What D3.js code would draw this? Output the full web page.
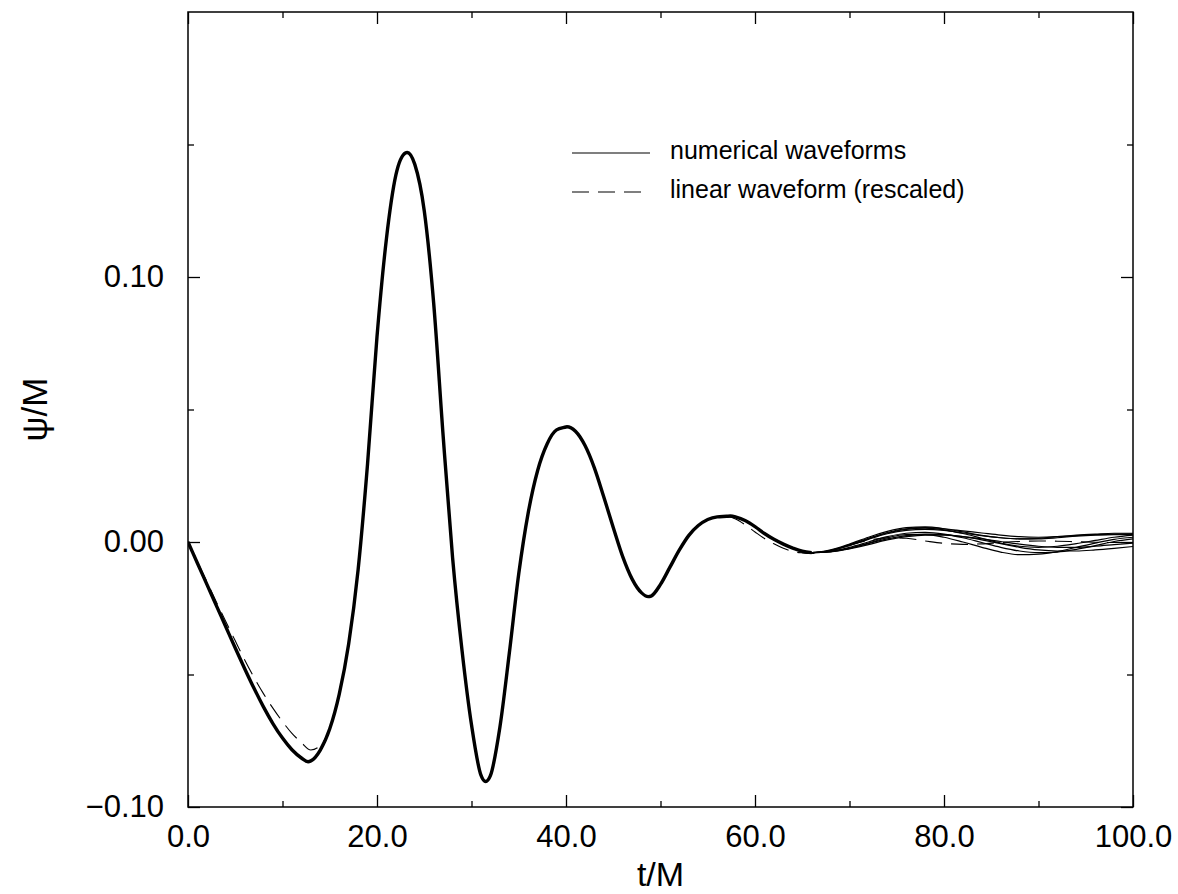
<!DOCTYPE html>
<html>
<head>
<meta charset="utf-8">
<script src="https://cdn.jsdelivr.net/npm/d3@7"></script>
<style>
  body { margin: 0; background: #fff; }
  svg { display: block; font-family: "Liberation Sans", Arial, sans-serif; }
</style>
</head>
<body>
<svg id="chart" width="1178" height="894"></svg>
<script>
// time grid for the part where all numerical runs coincide (extrema included)
const tEarly = [0, 1, 2, 3, 4, 5, 6, 7, 8, 9, 10, 11, 12, 12.7, 13, 14, 15, 16, 17, 18,
    19, 20, 21, 22, 23, 23.2, 24, 25, 26, 27, 28, 29, 30, 31, 31.5, 32, 33, 34, 35, 36,
    37, 38, 39, 40, 40.1, 41, 42, 43, 44, 45, 46, 47, 48, 48.7, 49, 50, 51, 52, 53, 54,
    55, 56, 57, 57.4, 58, 59, 60, 61, 62, 63, 64, 65, 66];
const psiEarly = [0.0000, -0.0080, -0.0160, -0.0240, -0.0320, -0.0400, -0.0478, -0.0553, -0.0623, -0.0686,
    -0.0740, -0.0784, -0.0815, -0.0829, -0.0826, -0.0785, -0.0705, -0.0575, -0.0385, -0.0105,
    0.0295, 0.0775, 0.1145, 0.1385, 0.1468, 0.1470, 0.1425, 0.1250, 0.0900, 0.0400,
    -0.0060, -0.0410, -0.0690, -0.0880, -0.0904, -0.0882, -0.0700, -0.0420, -0.0120, 0.0110,
    0.0270, 0.0370, 0.0423, 0.0434, 0.0435, 0.0418, 0.0365, 0.0280, 0.0170, 0.0055,
    -0.0055, -0.0140, -0.0192, -0.0206, -0.0204, -0.0160, -0.0095, -0.0030, 0.0025, 0.0062,
    0.0085, 0.0095, 0.0097, 0.0098, 0.0094, 0.0080, 0.0058, 0.0032, 0.0010, -0.0008,
    -0.0023, -0.0035, -0.0040];

// late times, where the runs drift apart
const tLate = [66, 68, 70, 72, 74, 76, 78, 80, 82, 84, 86, 88, 90, 92, 94, 96, 98, 100];
const psiLate1 = [-0.0040, -0.0030, -0.0008, 0.0018, 0.0040, 0.0054, 0.0057, 0.0050, 0.0038, 0.0025, 0.0016, 0.0012, 0.0014, 0.0020, 0.0026, 0.0030, 0.0033, 0.0033];
const psiLate2 = [-0.0040, -0.0032, -0.0012, 0.0012, 0.0034, 0.0048, 0.0052, 0.0046, 0.0032, 0.0014, -0.0004, -0.0016, -0.0020, -0.0016, -0.0006, 0.0006, 0.0018, 0.0026];
const psiLate3 = [-0.0040, -0.0036, -0.0024, -0.0004, 0.0016, 0.0028, 0.0028, 0.0018, 0.0000, -0.0020, -0.0038, -0.0048, -0.0046, -0.0036, -0.0020, -0.0004, 0.0010, 0.0018];
const psiLate4 = [-0.0040, -0.0035, -0.0020, 0.0000, 0.0020, 0.0033, 0.0036, 0.0030, 0.0016, -0.0002, -0.0020, -0.0034, -0.0040, -0.0038, -0.0028, -0.0014, 0.0002, 0.0012];
const psiLate5 = [-0.0040, -0.0036, -0.0024, -0.0006, 0.0012, 0.0024, 0.0030, 0.0028, 0.0020, 0.0008, -0.0006, -0.0020, -0.0030, -0.0034, -0.0034, -0.0030, -0.0024, -0.0017];
const psiLate6 = [-0.0040, -0.0033, -0.0014, 0.0010, 0.0031, 0.0044, 0.0048, 0.0044, 0.0034, 0.0024, 0.0016, 0.0012, 0.0012, 0.0016, 0.0022, 0.0026, 0.0028, 0.0028];
const psiLate7 = [-0.0040, -0.0037, -0.0026, -0.0010, 0.0008, 0.0020, 0.0026, 0.0026, 0.0020, 0.0012, 0.0002, -0.0008, -0.0016, -0.0020, -0.0020, -0.0016, -0.0010, -0.0004];
const psiLate8 = [-0.0040, -0.0031, -0.0010, 0.0014, 0.0036, 0.0050, 0.0054, 0.0050, 0.0042, 0.0034, 0.0026, 0.0020, 0.0018, 0.0020, 0.0024, 0.0028, 0.0030, 0.0031];
const psiLateRuns = [psiLate1, psiLate2, psiLate3, psiLate4, psiLate5, psiLate6, psiLate7, psiLate8];

// linear (rescaled) waveform, dashed
const tLinear = [0, 1, 2, 3, 4, 5, 6, 7, 8, 9, 10, 11, 12, 13, 14, 15, 16, 17, 18,
    19, 20, 21, 22, 23, 23.2, 24, 25, 26, 27, 28, 29, 30, 31, 31.5, 32, 33, 34, 35, 36,
    37, 38, 39, 40, 40.1, 41, 42, 43, 44, 45, 46, 47, 48, 48.7, 49, 50, 51, 52, 53, 54,
    55, 56, 57, 58, 59, 60, 61, 62, 63, 64, 65, 66, 68, 70, 72, 74, 76, 78, 80, 82,
    84, 86, 88, 90, 92, 94, 96, 98, 100];
const psiLinear = [0.0000, -0.0075, -0.0150, -0.0226, -0.0300, -0.0373, -0.0445, -0.0512, -0.0573, -0.0628,
    -0.0678, -0.0722, -0.0757, -0.0785, -0.0768, -0.0705, -0.0575, -0.0385, -0.0105,
    0.0295, 0.0775, 0.1145, 0.1385, 0.1468, 0.1470, 0.1425, 0.1250, 0.0900, 0.0400,
    -0.0060, -0.0410, -0.0690, -0.0880, -0.0904, -0.0882, -0.0700, -0.0420, -0.0120, 0.0110,
    0.0270, 0.0370, 0.0423, 0.0434, 0.0435, 0.0418, 0.0365, 0.0280, 0.0170, 0.0055,
    -0.0055, -0.0140, -0.0192, -0.0206, -0.0204, -0.0160, -0.0095, -0.0030, 0.0025, 0.0062,
    0.0085, 0.0094, 0.0096, 0.0086, 0.0064, 0.0038, 0.0013, -0.0007, -0.0024, -0.0036,
    -0.0041, -0.0043, -0.0033, -0.0012, 0.0006, 0.0016, 0.0014, 0.0004, -0.0005, -0.0009,
    -0.0007, -0.0002, 0.0002, 0.0004, 0.0003, 0.0001, -0.0001, -0.0002, -0.0001];

const xMajor = [0, 20, 40, 60, 80, 100];
const xMinor = [10, 30, 50, 70, 90];
const yMajor = [-0.10, 0.00, 0.10];
const yMinor = [-0.05, 0.05, 0.15];
const legendLabels = ["numerical waveforms", "linear waveform (rescaled)"];

const margin = {top: 12, right: 45, bottom: 87, left: 188};
const width = 1178, height = 894;

let svg = d3.select('#chart');

let x = d3.scaleLinear()
    .domain([0, 100])
    .range([margin.left, width - margin.right]);
let y = d3.scaleLinear()
    .domain([-0.1, 0.2])
    .range([height - margin.bottom, margin.top]);

svg.append('clipPath')
    .attr('id', 'plotclip')
    .append('rect')
        .attr('x', x(0))
        .attr('y', y(0.2))
        .attr('width', x(100) - x(0))
        .attr('height', y(-0.1) - y(0.2));

let line = d3.line()
    .x(d => x(d[0]))
    .y(d => y(d[1]))
    .curve(d3.curveMonotoneX);

let plot = svg.append('g').attr('clip-path', 'url(#plotclip)');

let early = tEarly.map((t, i) => [t, psiEarly[i]]);

// overlapping numerical runs form a thick bundle before they separate
plot.append('path')
    .attr('d', line(early))
    .attr('fill', 'none')
    .attr('stroke', '#000')
    .attr('stroke-width', 3.4);

psiLateRuns.forEach(function(run) {
    let pts = early.slice(0, -1).concat(tLate.map((t, i) => [t, run[i]]));
    plot.append('path')
        .attr('d', line(pts))
        .attr('fill', 'none')
        .attr('stroke', '#000')
        .attr('stroke-width', 1.2);
});

plot.append('path')
    .attr('d', line(tLinear.map((t, i) => [t, psiLinear[i]])))
    .attr('fill', 'none')
    .attr('stroke', '#000')
    .attr('stroke-width', 1.1)
    .attr('stroke-dasharray', '17,9');

// axes, ticks pointing inwards on all four sides
const fmtX = d3.format('.1f');
const fmtY = v => d3.format('.2f')(v).replace('-', '\u2013');

function styleAxis(g) {
    g.select('.domain').remove();
    g.selectAll('line').attr('stroke', '#000').attr('stroke-width', 1.3);
    g.selectAll('text')
        .attr('fill', '#000')
        .style('font-size', '31px')
        .style('font-family', '"Liberation Sans", Arial, sans-serif');
}

svg.append('g')
    .attr('transform', 'translate(0,' + y(-0.1) + ')')
    .call(d3.axisBottom(x).tickValues(xMajor).tickSize(-12).tickPadding(18).tickFormat(fmtX))
    .call(styleAxis);
svg.append('g')
    .attr('transform', 'translate(0,' + y(-0.1) + ')')
    .call(d3.axisBottom(x).tickValues(xMinor).tickSize(-6).tickFormat(''))
    .call(styleAxis);
svg.append('g')
    .attr('transform', 'translate(0,' + y(0.2) + ')')
    .call(d3.axisTop(x).tickValues(xMajor).tickSize(-12).tickFormat(''))
    .call(styleAxis);
svg.append('g')
    .attr('transform', 'translate(0,' + y(0.2) + ')')
    .call(d3.axisTop(x).tickValues(xMinor).tickSize(-6).tickFormat(''))
    .call(styleAxis);

svg.append('g')
    .attr('transform', 'translate(' + x(0) + ',0)')
    .call(d3.axisLeft(y).tickValues(yMajor).tickSize(-12).tickPadding(24).tickFormat(fmtY))
    .call(styleAxis);
svg.append('g')
    .attr('transform', 'translate(' + x(0) + ',0)')
    .call(d3.axisLeft(y).tickValues(yMinor).tickSize(-6).tickFormat(''))
    .call(styleAxis);
svg.append('g')
    .attr('transform', 'translate(' + x(100) + ',0)')
    .call(d3.axisRight(y).tickValues(yMajor).tickSize(-12).tickFormat(''))
    .call(styleAxis);
svg.append('g')
    .attr('transform', 'translate(' + x(100) + ',0)')
    .call(d3.axisRight(y).tickValues(yMinor).tickSize(-6).tickFormat(''))
    .call(styleAxis);

svg.append('rect')
    .attr('x', x(0))
    .attr('y', y(0.2))
    .attr('width', x(100) - x(0))
    .attr('height', y(-0.1) - y(0.2))
    .attr('fill', 'none')
    .attr('stroke', '#000')
    .attr('stroke-width', 1.5);

// axis titles
svg.append('text')
    .attr('x', (x(0) + x(100)) / 2)
    .attr('y', 886)
    .attr('text-anchor', 'middle')
    .style('font-size', '34px')
    .text('t/M');
svg.append('text')
    .attr('transform', 'translate(47,' + ((y(-0.1) + y(0.2)) / 2) + ') rotate(-90)')
    .attr('text-anchor', 'middle')
    .style('font-size', '35px')
    .text('\u03c8/M');

// legend
let legend = svg.append('g');
legendLabels.forEach(function(label, i) {
    let ly = 153 + i * 39;
    legend.append('line')
        .attr('x1', 572).attr('x2', 650)
        .attr('y1', ly).attr('y2', ly)
        .attr('stroke', '#000')
        .attr('stroke-width', 1.1)
        .attr('stroke-dasharray', i === 1 ? '17,9' : null);
    legend.append('text')
        .attr('x', 670)
        .attr('y', ly + 6)
        .style('font-size', '25px')
        .text(label);
});
</script>
</body>
</html>
